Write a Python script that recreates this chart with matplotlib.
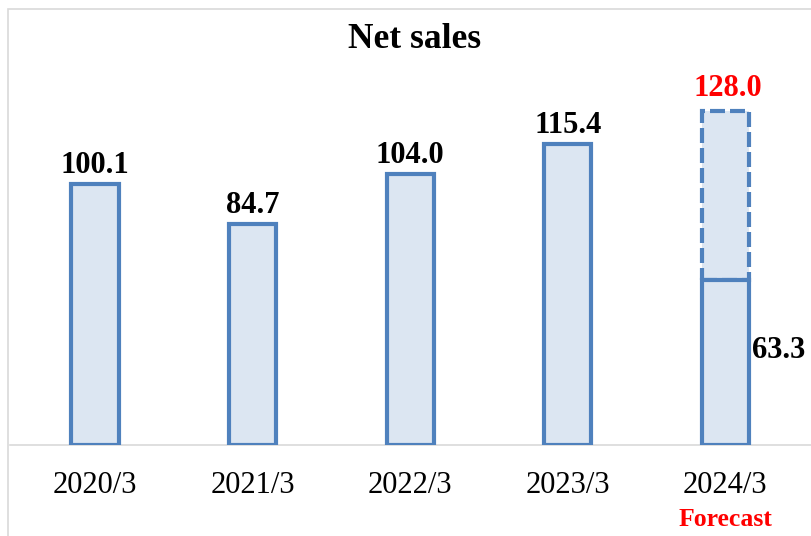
import matplotlib
matplotlib.use("Agg")
import matplotlib.pyplot as plt
from matplotlib.patches import Rectangle
from matplotlib.transforms import blended_transform_factory

categories = ["2020/3", "2021/3", "2022/3", "2023/3", "2024/3"]
actual = [100.1, 84.7, 104.0, 115.4, 63.3]
forecast_total = 128.0
forecast_idx = 4

EDGE = "#4f81bd"
FILL = "#dce6f2"
GRID = "#d9d9d9"
SERIF = ["Liberation Serif", "DejaVu Serif"]

W, H = 812, 536
fig = plt.figure(figsize=(W / 100, H / 100), dpi=100)
ax_left, ax_right = 10, 812
ax_bottom, ax_top = 445, 79.6
ax = fig.add_axes([ax_left / W, 1 - ax_bottom / H, (ax_right - ax_left) / W, (ax_bottom - ax_top) / H])

x = list(range(len(categories)))
width = 0.30
ax.bar(x, actual, width=width, color=FILL, edgecolor=EDGE, linewidth=3, zorder=3)
ax.bar([forecast_idx], [forecast_total - actual[forecast_idx]], bottom=[actual[forecast_idx]],
       width=width, color=FILL, edgecolor=EDGE, linewidth=3, linestyle=(0, (3.6, 1.2)), zorder=2)

ax.set_xlim(-0.54, 4.55)
ax.set_ylim(0, 140)

for i, v in enumerate(actual):
    if i == forecast_idx:
        ax.annotate(f"{v:.1f}", xy=(i + width / 2, v), xytext=(2, -51), textcoords="offset points",
                    ha="left", va="center", fontsize=22, fontweight="bold", family=SERIF, color="black")
    else:
        ax.annotate(f"{v:.1f}", xy=(i, v), xytext=(0, 13), textcoords="offset points",
                    ha="center", va="center", fontsize=22, fontweight="bold", family=SERIF, color="black")
ax.annotate(f"{forecast_total:.1f}", xy=(forecast_idx, forecast_total), xytext=(2, 16), textcoords="offset points",
            ha="center", va="center", fontsize=22, fontweight="bold", family=SERIF, color="red")

ax.set_xticks(x)
ax.set_xticklabels(categories, fontsize=22, family=SERIF)
ax.tick_params(axis="x", length=0, pad=19)
ax.set_yticks([])
for s in ["top", "right", "left"]:
    ax.spines[s].set_visible(False)
ax.spines["bottom"].set_color(GRID)
ax.spines["bottom"].set_linewidth(1.2)

trans = blended_transform_factory(ax.transData, fig.transFigure)
ax.text(forecast_idx, 1 - 519 / H, "Forecast", transform=trans, ha="center", va="center",
        fontsize=18.5, fontweight="bold", family=SERIF, color="red")

fig.text(415 / W, 1 - 40 / H, "Net sales", ha="center", va="center", fontsize=25.5,
         fontweight="bold", family=SERIF)

fig.patches.append(Rectangle((8 / W, -0.1), 1.0, 1.1 - 9 / H, transform=fig.transFigure,
                             fill=False, edgecolor=GRID, linewidth=1.2))

fig.savefig("out.png", dpi=100)
